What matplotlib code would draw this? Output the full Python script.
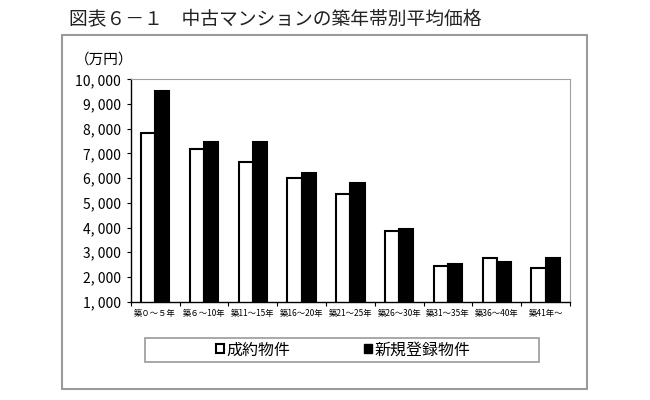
import numpy as np
import matplotlib.pyplot as plt
from matplotlib.patches import Rectangle, Patch
from matplotlib.ticker import FuncFormatter, FixedLocator

plt.rcParams["font.family"] = ["Noto Sans CJK JP", "DejaVu Sans"]

categories = ["築０～５年", "築６～10年", "築11～15年", "築16～20年", "築21～25年",
              "築26～30年", "築31～35年", "築36～40年", "築41年～"]
seiyaku = [7810, 7180, 6640, 6010, 5360, 3850, 2460, 2760, 2380]
shinki = [9540, 7450, 7450, 6200, 5820, 3950, 2510, 2610, 2770]
yticks = [1000, 2000, 3000, 4000, 5000, 6000, 7000, 8000, 9000, 10000]


def main():
    fig = plt.figure(figsize=(6.5, 4.0), dpi=100)
    fig.patch.set_facecolor("white")

    # outer frame of the chart area
    fig.patches.append(Rectangle((62 / 650, 1 - 389 / 400), 525 / 650, 354 / 400,
                                 transform=fig.transFigure, fill=False,
                                 edgecolor="#9a9a9a", linewidth=1.5))

    fig.text(69 / 650, 1 - 20 / 400, "図表６－１　中古マンションの築年帯別平均価格",
             fontsize=13.5, va="center", ha="left", color="#222222")

    ax = fig.add_axes([130.7 / 650, 1 - 301.7 / 400, 439.3 / 650, 222.4 / 400])

    x = np.arange(len(categories))
    w = 0.29
    ax.bar(x - w / 2, seiyaku, w, color="white", edgecolor="black", linewidth=1.5)
    ax.bar(x + w / 2, shinki, w, color="black", edgecolor="black", linewidth=1.5)

    ax.set_xlim(-0.5, len(categories) - 0.5)
    ax.set_ylim(1000, 10000)
    ax.set_yticks(yticks)
    ax.yaxis.set_major_formatter(FuncFormatter(lambda v, p: f"{int(v):,}".replace(",", ", ")))
    ax.tick_params(axis="y", labelsize=10, length=3, direction="out", pad=4)

    ax.xaxis.set_major_locator(FixedLocator(np.arange(len(categories) + 1) - 0.5))
    ax.xaxis.set_minor_locator(FixedLocator(x))
    ax.set_xticklabels([], minor=False)
    ax.set_xticklabels(categories, minor=True)
    ax.tick_params(axis="x", which="major", length=3, direction="out")
    ax.tick_params(axis="x", which="minor", length=0, labelsize=6, pad=5)

    for side in ("top", "right"):
        ax.spines[side].set_color("#a0a0a0")
    for side in ("left", "bottom"):
        ax.spines[side].set_color("black")
        ax.spines[side].set_linewidth(1.0)

    fig.text(104 / 650, 1 - 60 / 400, "（万円）", fontsize=10.5, ha="center", va="center")

    # legend box
    fig.patches.append(Rectangle((145 / 650, 1 - 362 / 400), 394 / 650, 24 / 400,
                                 transform=fig.transFigure, fill=False,
                                 edgecolor="#9a9a9a", linewidth=1.2))
    handles = [Patch(facecolor="white", edgecolor="black", linewidth=1.5, label="成約物件"),
               Patch(facecolor="black", edgecolor="black", label="新規登録物件")]
    fig.legend(handles=handles, loc="center left", ncol=2,
               bbox_to_anchor=(216 / 650, 1 - 350 / 400),
               fontsize=11.5, frameon=False,
               handlelength=0.5, handleheight=0.5, handletextpad=0.15,
               borderpad=0, borderaxespad=0, columnspacing=4.6)

    fig.savefig("out.png", dpi=100)


if __name__ == "__main__":
    main()
